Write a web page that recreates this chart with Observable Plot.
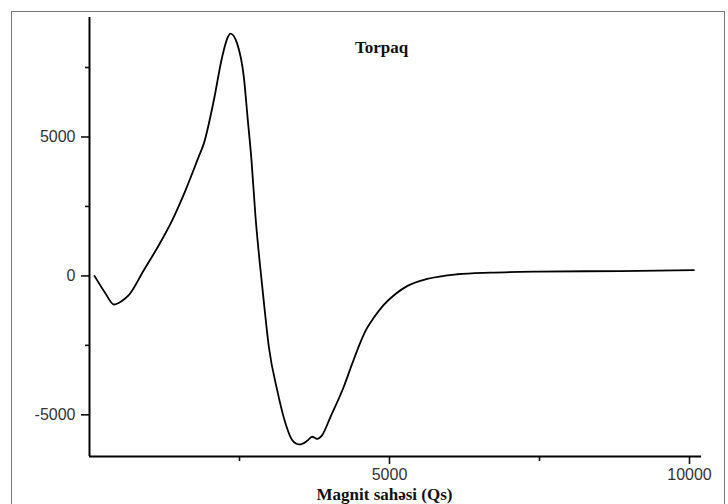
<!DOCTYPE html>
<html>
<head>
<meta charset="utf-8">
<script src="https://cdn.jsdelivr.net/npm/d3@7"></script>
<script src="https://cdn.jsdelivr.net/npm/@observablehq/plot@0.6"></script>
<style>
  html, body { margin: 0; padding: 0; background: #fff; }
  #wrap { position: relative; width: 728px; height: 504px; overflow: hidden; }
  #border { position: absolute; left: 11px; top: 11px; width: 714px; height: 520px; border: 1px solid #777; box-sizing: border-box; pointer-events: none; }
</style>
</head>
<body>
<div id="wrap"><div id="border"></div></div>
<script>
// Magnetic field (Qs) and signal
const field = [83, 267, 405, 540, 655, 905, 1155, 1378, 1600, 1822, 1905, 2072, 2211, 2295, 2350, 2461, 2572, 2639, 2700, 2767, 2839, 2917, 2989, 3128, 3267, 3378, 3440, 3505, 3628, 3711, 3795, 3878, 4017, 4238, 4380, 4517, 4620, 4740, 4900, 5100, 5300, 5628, 6128, 6683, 7461, 8850, 10072];
const signal = [0, -633, -1030, -900, -695, 205, 1105, 2000, 3080, 4300, 4760, 6320, 7880, 8540, 8720, 8360, 7160, 5600, 4160, 2120, 445, -1170, -2550, -4110, -5310, -5910, -6030, -6065, -5935, -5790, -5865, -5730, -5070, -3990, -3150, -2380, -1900, -1500, -1050, -650, -360, -110, 60, 120, 155, 175, 205];

const xMajor = [5000, 10000];
const xMinor = [2500, 7500];
const yMajor = [-5000, 0, 5000];
const yMinor = [-2500, 2500, 7500];
const xDomain = [0, 10200];
const yDomain = [-6500, 9300];
const title = "Torpaq";
const xLabel = "Magnit sahəsi (Qs)";

const data = field.map((x, i) => ({x, y: signal[i]}));

const chart = Plot.plot({
  width: 728,
  height: 504,
  marginLeft: 89,
  marginRight: 27,
  marginTop: 17,
  marginBottom: 48,
  style: {fontFamily: "'Liberation Sans', Arial, sans-serif", fontSize: "16px", background: "transparent", color: "#333"},
  x: {domain: xDomain},
  y: {domain: yDomain},
  marks: [
    Plot.axisX(xMajor, {tickSize: 8, tickPadding: 4, strokeWidth: 1.6, stroke: "#111", fill: "#333", tickFormat: d => String(d), label: null, fontSize: 16}),
    Plot.axisX(xMinor, {tickSize: 5, strokeWidth: 1.6, stroke: "#111", tickFormat: () => "", label: null}),
    Plot.axisY(yMajor, {tickSize: 8, tickPadding: 6, strokeWidth: 1.6, stroke: "#111", fill: "#333", tickFormat: d => String(d), label: null, fontSize: 16}),
    Plot.axisY(yMinor, {tickSize: 4, strokeWidth: 1.6, stroke: "#111", tickFormat: () => "", label: null}),
    Plot.ruleX([xDomain[0]], {stroke: "#000", strokeWidth: 2}),
    Plot.ruleY([yDomain[0]], {stroke: "#000", strokeWidth: 2}),
    Plot.line(data, {x: "x", y: "y", stroke: "#000", strokeWidth: 1.8, curve: "monotone-x"}),
    Plot.text([title], {frameAnchor: "top", lineAnchor: "bottom", dx: -14, dy: 35, text: d => d, fontFamily: "'Liberation Serif', 'Times New Roman', serif", fontWeight: "bold", fontSize: 17, fill: "#111"}),
    Plot.text([xLabel], {frameAnchor: "bottom", lineAnchor: "bottom", dx: -11, dy: 43, text: d => d, fontFamily: "'Liberation Serif', 'Times New Roman', serif", fontWeight: "bold", fontSize: 17, fill: "#111"})
  ]
});
document.getElementById("wrap").insertBefore(chart, document.getElementById("border"));
</script>
</body>
</html>
